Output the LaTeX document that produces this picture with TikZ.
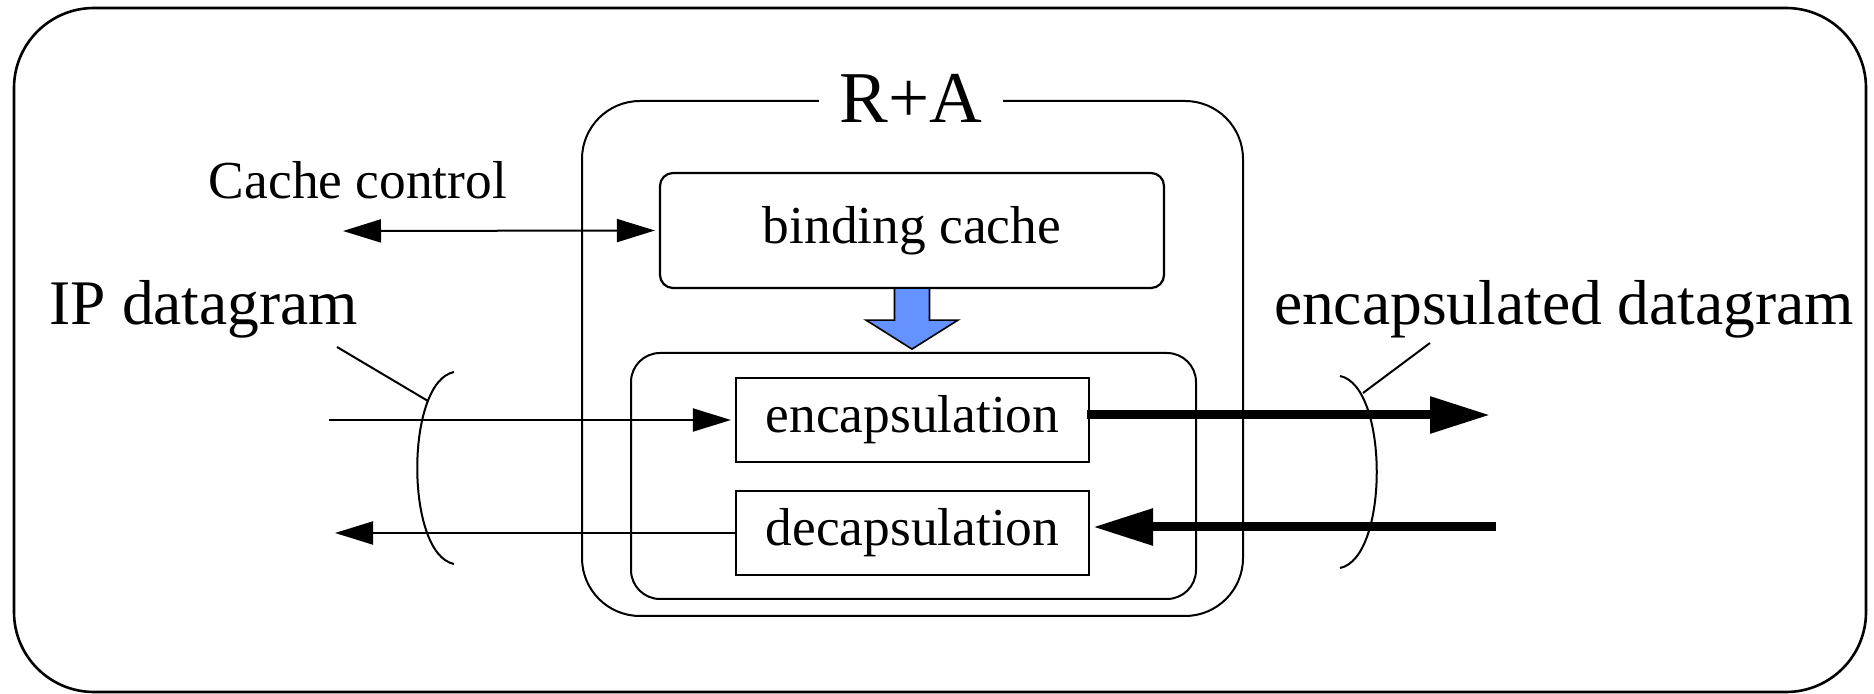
\documentclass[tikz,border=0pt]{standalone}
\usepackage{fontspec}
\setmainfont{Liberation Serif}
\usetikzlibrary{arrows.meta,calc}
\definecolor{arrowblue}{RGB}{100,146,255}
\tikzset{
  thinhead/.tip={Triangle[length=19pt,width=11.5pt]},
  frame/.style={draw, line width=1pt, inner sep=0pt},
  box/.style={draw, line width=1.1pt, inner sep=0pt, font=\fontsize{26.7}{30}\selectfont},
  thinline/.style={line width=1pt},
  thinarr/.style={line width=1pt, -{Triangle[length=19pt,width=11.5pt]}},
  thickarr/.style={line width=4.5pt, -{Triangle[length=30pt,width=17.5pt]}},
  lbl/.style={anchor=base, inner sep=0pt},
  midfont/.style={font=\fontsize{26.7}{30}\selectfont},
  bigfont/.style={font=\fontsize{31.75}{36}\selectfont}
}
\begin{document}
\begin{tikzpicture}[x=0.5pt,y=-0.5pt]
\useasboundingbox (0,0) rectangle (1874,694);
% outer frame
\draw[line width=1.3pt, rounded corners=40pt] (14,8) rectangle (1866,692);
% R+A box and inner box
\node[frame, rounded corners=29pt, minimum width=330.5pt, minimum height=257.5pt] (ra) at (912.5,358.5) {};
\node[frame, rounded corners=14.5pt, minimum width=282.5pt, minimum height=123pt] (inner) at (913.5,476) {};
\node[fill=white, inner xsep=10.5pt, inner ysep=3pt, anchor=base, font=\fontsize{36.5}{40}\selectfont] (ralbl) at (911,123) {R+A};
% boxes
\node[box, rounded corners=6.5pt, minimum width=252pt, minimum height=57.5pt] (bc) at (912,230.5) {binding cache};
\node[box, minimum width=176.5pt, minimum height=42pt] (enc) at (912.5,420) {encapsulation};
\node[box, minimum width=176.5pt, minimum height=42pt] (dec) at (912.5,533) {decapsulation};
% blue arrow
\draw[line width=0.8pt, fill=arrowblue]
  ($(bc.south)+(-17.5,0)$) -- ($(bc.south)+(-17.5,31)$) -- ($(bc.south)+(-46,31)$)
  -- ($(bc.south)+(0,60)$) -- ($(bc.south)+(46,31)$) -- ($(bc.south)+(17.5,31)$)
  -- ($(bc.south)+(17.5,0)$);
% labels
\node[lbl, midfont] (cc) at (358,199) {Cache control};
\node[lbl, bigfont] (ipd) at (204,325) {IP datagram};
\node[lbl, bigfont] (encd) at (1564,325) {encapsulated datagram};
% cache control arrow
\coordinate (ccl) at (343,231);
\draw[thinline, thinhead-thinhead, shorten >=2pt] (ccl) -- (bc.west);
% IP datagram arrows
\coordinate (ipin) at (329,420);
\draw[thinarr, shorten >=2pt] (ipin) -- (enc.west);
\coordinate (ipout) at (335,533);
\draw[thinarr] (dec.west) -- (ipout);
% encapsulated datagram arrows
\coordinate (encout) at (1490,415);
\draw[thickarr] ($(enc.east)+(-3,-5)$) -- (encout);
\coordinate (decin) at (1496,527);
\draw[thickarr, shorten >=1.5pt] (decin) -- ($(dec.east)+(0,-6)$);
% brackets
\draw[thinline] (454,372) .. controls (405,382) and (405,554) .. (454,564);
\coordinate (ldl) at (337,347);
\coordinate (ldlend) at (428,401);
\draw[thinline] (ldl) -- (ldlend);
\draw[thinline] (1340,376) .. controls (1389,386) and (1389,558) .. (1340,568);
\coordinate (ldr) at (1430,343);
\coordinate (ldrend) at (1363,393);
\draw[thinline] (ldr) -- (ldrend);
\end{tikzpicture}
\end{document}
